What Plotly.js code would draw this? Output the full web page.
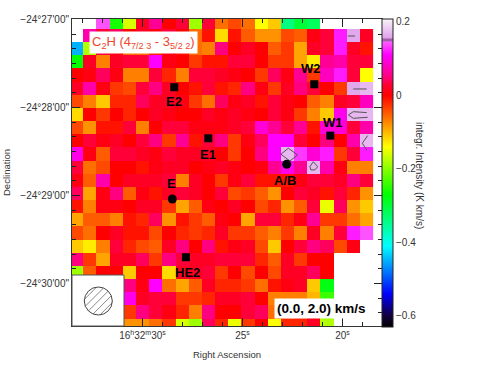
<!DOCTYPE html>
<html>
<head>
<meta charset="utf-8">
<script src="https://cdn.plot.ly/plotly-3.0.1.min.js"></script>
<style>html,body{margin:0;padding:0;background:#fff}</style>
</head>
<body>
<div id="g1" style="width:503px;height:367px"></div>
<script>
// integrated intensity, one row per declination step
const row00 = [null, null, 0.14, -0.26, -0.16, 0.02, 0.06, 0, 0.03, -0.19, 0.03, -0.06, -0.04, -0.06, -0.14, -0.11, -0.34, -0.3, -0.32, null, null, null, null];
const row01 = [null, 0.07, 0.03, 0.04, 0, 0.02, 0.01, 0.03, 0, -0.06, -0.01, -0.12, -0.01, -0.05, -0.08, -0.08, -0.04, -0.05, 0.01, 0.03, 0.12, 0.16, 0.02];
const row02 = [-0.45, -0.18, 0.03, 0.01, -0.06, -0.06, -0.02, 0.01, -0.01, -0.06, -0.07, 0.05, 0, 0.02, 0, -0.05, -0.03, -0.09, 0.02, 0.03, 0.12, 0.02, -0.01];
const row03 = [-0.27, 0.02, -0.07, 0.02, 0.03, 0.03, 0.11, 0.01, 0, -0.03, -0.01, -0.01, 0.03, 0.03, 0, -0.03, -0.03, -0.09, -0.13, 0.06, 0.07, 0.03, 0.03];
const row04 = [0, 0.01, 0.04, 0.01, -0.07, -0.07, 0.03, -0.02, -0.07, 0.03, 0.03, 0.02, 0.01, 0, -0.03, 0.04, 0.01, 0.06, -0.03, 0.08, 0.12, 0.03, -0.14];
const row05 = [0.02, 0.07, 0.01, -0.03, -0.04, 0.03, 0.05, 0.02, 0, -0.01, 0.03, -0.01, -0.02, 0.05, 0.01, -0.03, 0.02, 0.05, 0.03, 0, -0.03, 0.16, 0.17];
const row06 = [-0.04, -0.07, -0.11, -0.02, -0.02, 0.04, 0.02, 0.02, 0.01, -0.03, -0.06, 0.04, 0.01, 0.02, -0.01, 0.03, 0.01, 0, -0.05, -0.07, 0.02, 0.03, 0.08];
const row07 = [-0.12, 0, -0.03, 0, -0.02, 0, 0.02, 0.01, 0, 0, 0.02, 0.01, 0.02, 0.01, 0, 0.03, 0.01, -0.03, -0.07, -0.11, 0.1, 0.17, 0.17];
const row08 = [-0.04, -0.08, -0.01, -0.01, 0.03, -0.07, 0, 0.03, 0.03, 0.01, 0.01, 0.01, 0.02, 0.03, 0.09, 0.06, 0.03, 0.06, -0.01, 0.09, 0.09, 0.03, 0.07];
const row09 = [0, 0.03, 0.01, 0.02, 0, 0.03, 0.05, -0.03, 0.06, -0.01, 0.03, 0.05, -0.03, 0.01, 0.04, 0.11, 0.11, 0.03, 0, 0.05, 0, 0.07, 0.17];
const row10 = [0.1, 0.01, -0.05, 0.03, 0.03, 0.02, 0.01, 0.03, 0.02, 0.02, 0.02, 0, -0.03, 0, 0.05, 0.11, 0.17, 0.13, 0.09, 0.12, -0.03, 0.03, 0.12];
const row11 = [0.03, -0.06, -0.04, 0, 0, -0.01, 0.01, 0.02, 0.02, 0, 0.01, 0.02, 0.01, 0, 0.01, 0.06, 0.1, 0.06, 0.17, 0.07, 0.01, -0.07, -0.07];
const row12 = [0.01, -0.05, 0.07, 0, 0.02, 0.02, 0.02, 0.03, -0.07, 0.02, 0, -0.03, 0.01, 0.03, -0.01, -0.01, -0.01, 0.01, 0.03, 0.03, 0.02, 0.05, 0.03];
const row13 = [0.04, -0.09, 0.01, 0.05, -0.05, 0.01, -0.01, 0.02, 0.03, 0.02, 0, 0.03, -0.04, -0.03, -0.05, -0.08, 0, 0.03, 0.02, -0.01, 0.03, -0.02, -0.08];
const row14 = [-0.01, -0.07, 0.01, 0.01, 0, 0.02, 0.02, -0.03, -0.09, -0.05, 0.01, 0, 0.02, 0, -0.04, -0.02, -0.08, -0.05, 0.03, -0.15, 0.04, -0.08, -0.11];
const row15 = [-0.09, -0.05, -0.05, -0.07, -0.01, -0.02, 0.04, -0.08, -0.01, -0.03, -0.05, 0.01, 0, -0.09, 0.03, 0.03, -0.02, 0.01, 0.06, -0.03, -0.03, -0.06, -0.09];
const row16 = [-0.04, -0.06, 0, 0.02, -0.01, -0.01, -0.04, 0, -0.02, -0.03, -0.02, 0.02, -0.03, -0.03, -0.05, -0.07, -0.03, -0.07, 0.02, -0.07, 0.03, 0.12, 0.14];
const row17 = [-0.11, -0.13, -0.07, 0.03, -0.02, -0.04, -0.05, 0.02, 0.05, 0, 0.05, -0.01, 0.01, 0.02, -0.04, -0.11, 0, 0.03, 0.05, 0.04, -0.04, 0.01, null];
const row18 = [0.05, -0.03, -0.09, 0.02, 0.02, 0.04, -0.03, 0.05, 0.03, 0.02, 0.02, 0.03, 0.03, 0.03, -0.02, -0.05, 0.02, -0.03, 0, 0, null, null, null];
const row19 = [-0.19, -0.05, 0, 0, -0.11, 0, 0, -0.12, 0.02, 0.02, 0.03, -0.03, 0, -0.04, 0, -0.04, 0.02, 0.02, 0.04, 0, null, null, null];
const row20 = [null, null, null, null, 0.05, 0.01, 0.11, -0.06, -0.09, -0.05, 0.02, -0.02, -0.02, -0.03, -0.06, -0.01, 0.01, 0.02, -0.11, -0.28, null, null, null];
const row21 = [null, null, null, null, 0.1, 0.02, 0.03, 0.03, -0.03, -0.03, -0.02, 0.02, 0.02, 0.03, 0, -0.07, -0.07, -0.07, -0.1, -0.24, null, null, null];
const row22 = [null, null, null, null, -0.03, 0.05, 0.03, 0.01, -0.02, -0.07, 0.05, 0, 0, 0.03, 0.04, -0.06, -0.05, -0.03, 0, -0.2, null, null, null];
const row23 = [null, null, null, null, -0.08, -0.08, -0.06, -0.03, -0.16, -0.19, 0.04, -0.02, -0.15, -0.03, 0, -0.14, -0.02, -0.02, 0.02, -0.18, null, null, null];

const intensity = [row00, row01, row02, row03, row04, row05, row06, row07, row08, row09, row10, row11,
    row12, row13, row14, row15, row16, row17, row18, row19, row20, row21, row22, row23];

// sources: RA seconds past 16h32m, Dec arcsec below -24d27m
const squareNames = ['E2', 'E1', 'W2', 'W1', 'HE2'];
const squareRa = [28.41, 26.71, 21.41, 20.61, 27.83];
const squareDec = [-46.2, -81, -44.2, -79.2, -162.1];
const circleNames = ['E', 'A/B'];
const circleRa = [28.51, 22.79];
const circleDec = [-122.4, -98.7];

// contours drawn over the brightest cells
const contourRa = [19.74, 19.38, null, 19.46, 18.79, null, 18.79, 19.46, 19.71, 19.46, 18.74, null,
    18.74, 19.01, 18.79, null, 22.71, 22.24, 22.63, 23.08, 22.71, null, 21.46, 21.24, 21.38, 21.58, 21.63, 21.46];
const contourDec = [-11.3, -11.3, null, -47.4, -47.4, null, -63.5, -62.9, -65.1, -67.4, -66.7, null,
    -79.2, -84.4, -89, null, -87.8, -92.4, -96.5, -91.9, -87.8, null, -97, -100.4, -102.6, -102.6, -100.4, -97];

const raTicks = [30, 25, 20];
const raTickText = ['16<sup>h</sup>32<sup>m</sup>30<sup>s</sup>', '25<sup>s</sup>', '20<sup>s</sup>'];
const decTicks = [0, -60, -120, -180];
const decTickText = ['\u221224\u00b027\'00"', '\u221224\u00b028\'00"', '\u221224\u00b029\'00"', '\u221224\u00b030\'00"'];

const W = 503, H = 367;
const L = 72, R = 382, T = 19, B = 326;

// couleurs de la barre, valeur -> couleur
const zMin = -0.63, zMax = 0.207;
const stops = [
    [-0.63, '#000000'], [-0.6, '#14003c'], [-0.54, '#0000ff'], [-0.41, '#00ffff'], [-0.27, '#00ff00'],
    [-0.14, '#ffff00'], [-0.07, '#ff8000'], [0, '#ff0000'], [0.03, '#ff0038'], [0.05, '#ff0080'], [0.11, '#ff00ff'],
    [0.145, '#ff60ff'], [0.147, '#a060a8'], [0.153, '#a060a8'], [0.155, '#e0a0ec'], [0.207, '#f8f4f8']
];
const colorscale = stops.map(s => [(s[0] - zMin) / (zMax - zMin), s[1]]);

const heat = {
    type: 'heatmap',
    z: intensity,
    x0: 33.29,
    dx: -0.659,
    y0: -2,
    dy: -8.966,
    zmin: zMin,
    zmax: zMax,
    zsmooth: false,
    colorscale: colorscale,
    hoverongaps: false,
    colorbar: {
        thickness: 11,
        thicknessmode: 'pixels',
        len: B - T + 1,
        lenmode: 'pixels',
        y: 1,
        yanchor: 'top',
        ypad: 0,
        x: 1,
        xanchor: 'left',
        xpad: 0,
        outlinewidth: 1,
        outlinecolor: '#222',
        tickvals: [0.2, 0, -0.2, -0.4, -0.6],
        ticktext: ['0.2', '0', '\u22120.2', '\u22120.4', '\u22120.6'],
        ticks: '',
        tickfont: { family: 'Liberation Sans', size: 10, color: '#333' }
    }
};

const contours = {
    type: 'scatter',
    mode: 'lines',
    x: contourRa,
    y: contourDec,
    line: { color: '#555', width: 1 },
    showlegend: false,
    hoverinfo: 'skip'
};

const squares = {
    type: 'scatter',
    mode: 'markers',
    x: squareRa,
    y: squareDec,
    text: squareNames,
    marker: { symbol: 'square', size: 8, color: '#000' },
    showlegend: false
};

const circles = {
    type: 'scatter',
    mode: 'markers',
    x: circleRa,
    y: circleDec,
    text: circleNames,
    marker: { symbol: 'circle', size: 9, color: '#000' },
    showlegend: false
};

// labels des sources, décalage en pixels par rapport au point
const labelShift = {
    'E2': [0, -14], 'E1': [0, -16], 'W2': [-3, 16], 'W1': [3, 13], 'HE2': [2, -15], 'E': [-1, 15], 'A/B': [-2, -16]
};
const sourceLabels = squareNames.map((n, i) => [n, squareRa[i], squareDec[i]])
    .concat(circleNames.map((n, i) => [n, circleRa[i], circleDec[i]]))
    .map(s => ({
        x: s[1], y: s[2], xref: 'x', yref: 'y',
        text: '<b>' + s[0] + '</b>',
        showarrow: false,
        xshift: labelShift[s[0]][0],
        yshift: labelShift[s[0]][1],
        font: { family: 'Liberation Sans', size: 13, color: '#000' }
    }));

const px = x => (x - L) / (R - L);
const py = y => (B - y) / (B - T);

// lobe hachuré dans le coin
const beamX = 98.3, beamY = 301, beamR = 14;
const beamShapes = [
    { type: 'rect', xref: 'paper', yref: 'paper', x0: 0, x1: px(124), y0: 0, y1: py(275), fillcolor: '#fff', line: { color: '#555', width: 1 } },
    { type: 'circle', xref: 'paper', yref: 'paper', x0: px(beamX - beamR), x1: px(beamX + beamR), y0: py(beamY + beamR), y1: py(beamY - beamR), line: { color: '#444', width: 1 } }
];
for (let d = -11; d <= 11; d += 5.5) {
    // corde à 45 degrés, à la distance d du centre
    const half = Math.sqrt(beamR * beamR - d * d);
    const cx = beamX + d * Math.SQRT1_2, cy = beamY + d * Math.SQRT1_2;
    beamShapes.push({
        type: 'line', xref: 'paper', yref: 'paper',
        x0: px(cx - half * Math.SQRT1_2), y0: py(cy + half * Math.SQRT1_2),
        x1: px(cx + half * Math.SQRT1_2), y1: py(cy - half * Math.SQRT1_2),
        line: { color: '#555', width: 0.7 }
    });
}

const layout = {
    width: W,
    height: H,
    margin: { l: L, r: W - R, t: T, b: H - B, pad: 0 },
    paper_bgcolor: '#fff',
    plot_bgcolor: '#fff',
    showlegend: false,
    font: { family: 'Liberation Sans', size: 10, color: '#333' },
    xaxis: {
        range: [33.525, 18.025],
        tickmode: 'array',
        tickvals: raTicks,
        ticktext: raTickText,
        ticks: 'inside',
        ticklen: 8,
        tickwidth: 1,
        tickcolor: '#222',
        showgrid: false,
        zeroline: false,
        showline: true,
        linecolor: '#333',
        mirror: 'allticks',
        layer: 'above traces',
        minor: { tick0: 0, dtick: 1, ticks: 'inside', ticklen: 4, tickcolor: '#222', showgrid: false },
        title: { text: 'Right Ascension', standoff: 11, font: { family: 'Liberation Sans', size: 9.5, color: '#333' } }
    },
    yaxis: {
        range: [-209, 0.3],
        tickmode: 'array',
        tickvals: decTicks,
        ticktext: decTickText,
        ticks: 'inside',
        ticklen: 8,
        tickwidth: 1,
        tickcolor: '#222',
        showgrid: false,
        zeroline: false,
        showline: true,
        linecolor: '#333',
        mirror: 'allticks',
        layer: 'above traces',
        minor: { tick0: 0, dtick: 10, ticks: 'inside', ticklen: 4, tickcolor: '#222', showgrid: false },
        title: { text: 'Declination', standoff: 8, font: { family: 'Liberation Sans', size: 9.5, color: '#333' } }
    },
    shapes: beamShapes,
    annotations: sourceLabels.concat([
        {
            xref: 'paper', yref: 'paper', x: px(143), y: py(42.5), xanchor: 'center', yanchor: 'middle',
            text: 'C<sub>2</sub>H (4<sub>7/2 3</sub> - 3<sub>5/2 2</sub>)',
            showarrow: false,
            bgcolor: '#fff',
            borderpad: 2,
            font: { family: 'Liberation Sans', size: 13, color: '#f0442c' }
        },
        {
            xref: 'paper', yref: 'paper', x: px(321), y: py(308.5), xanchor: 'center', yanchor: 'middle',
            text: '<b>(0.0, 2.0) km/s</b>',
            showarrow: false,
            bgcolor: '#fff',
            borderpad: 2,
            font: { family: 'Liberation Sans', size: 13.5, color: '#000' }
        },
        {
            xref: 'paper', yref: 'paper', x: px(420), y: py(175), xanchor: 'center', yanchor: 'middle',
            text: 'integr. Intensity (K km/s)',
            textangle: 90,
            showarrow: false,
            font: { family: 'Liberation Sans', size: 10, color: '#333' }
        }
    ])
};

Plotly.newPlot('g1', [heat, contours, squares, circles], layout, { displayModeBar: false, responsive: false });
</script>
</body>
</html>
